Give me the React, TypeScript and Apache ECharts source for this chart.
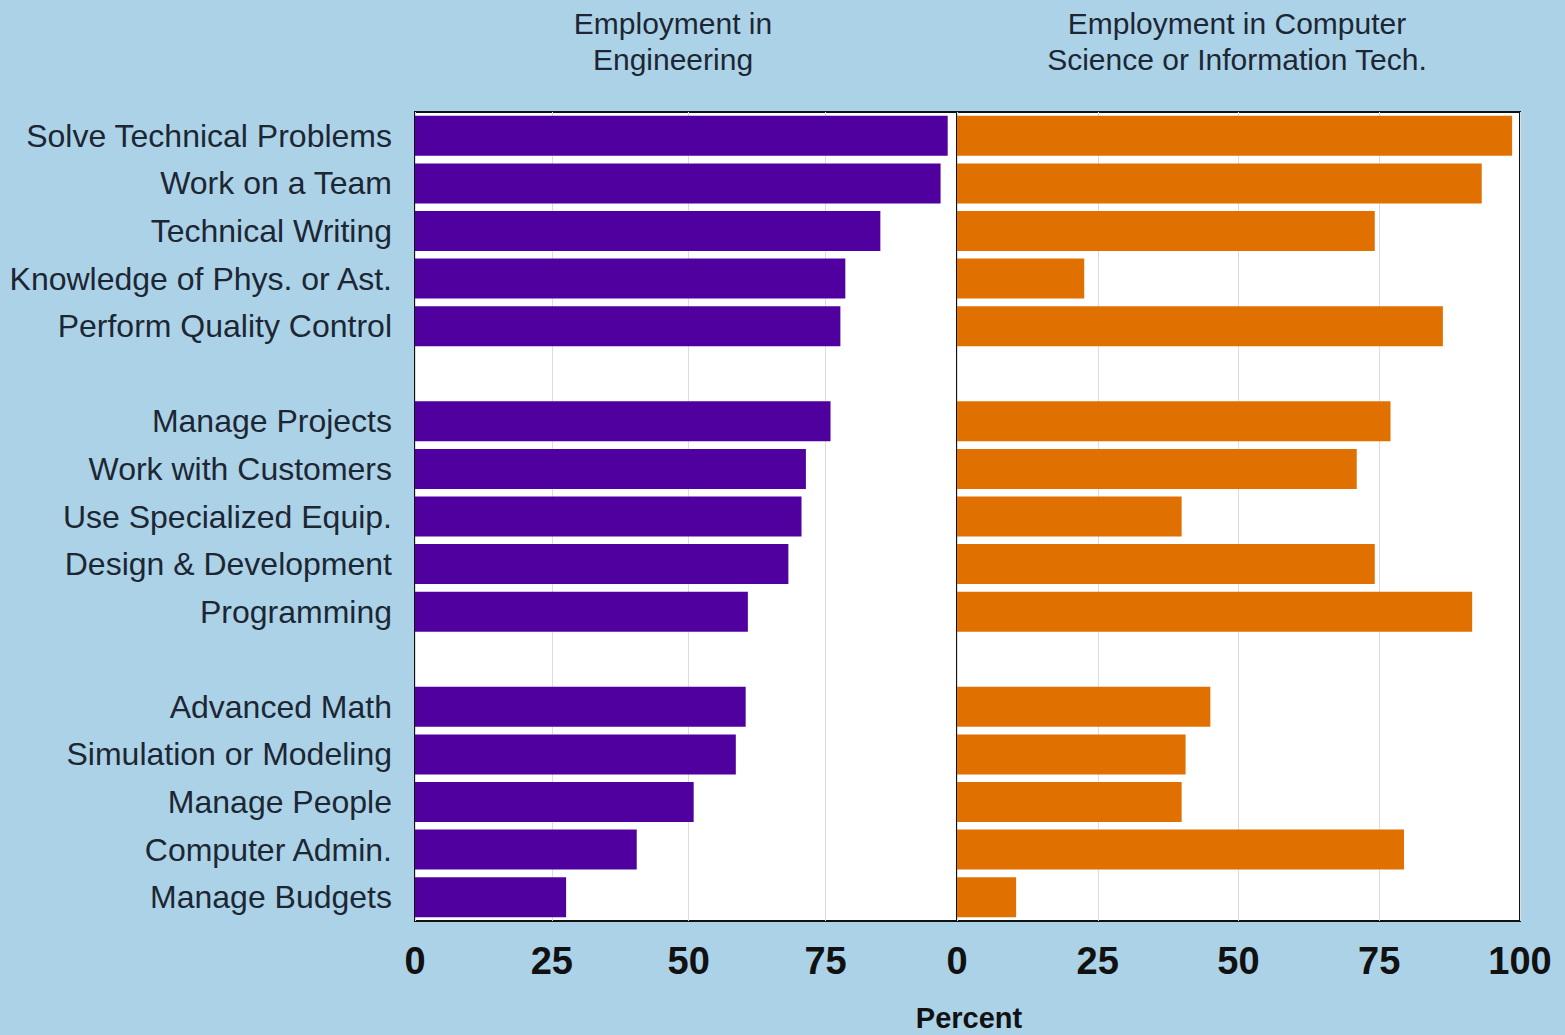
import React, { useEffect, useRef } from "react";
import * as echarts from "echarts";

// Categories, top to bottom; blank entries are the gaps between groups
const categories: string[] = [
  "Solve Technical Problems",
  "Work on a Team",
  "Technical Writing",
  "Knowledge of Phys. or Ast.",
  "Perform Quality Control",
  "",
  "Manage Projects",
  "Work with Customers",
  "Use Specialized Equip.",
  "Design & Development",
  "Programming",
  " ",
  "Advanced Math",
  "Simulation or Modeling",
  "Manage People",
  "Computer Admin.",
  "Manage Budgets",
];

const engineering: (number | null)[] = [
  97.3, 96.0, 85.0, 78.6, 77.7, null,
  75.9, 71.4, 70.6, 68.2, 60.8, null,
  60.4, 58.6, 50.9, 40.5, 27.6,
];

const computerScience: (number | null)[] = [
  98.6, 93.2, 74.2, 22.6, 86.3, null,
  77.0, 71.0, 39.9, 74.2, 91.5, null,
  45.0, 40.6, 39.9, 79.4, 10.5,
];

const leftTicks = [0, 25, 50, 75];
const rightTicks = [0, 25, 50, 75, 100];

const panelTitles = [
  "Employment in\nEngineering",
  "Employment in Computer\nScience or Information Tech.",
];
const xAxisName = "Percent";

export default function App() {
  const ref = useRef<HTMLDivElement>(null);

  useEffect(() => {
    if (!ref.current) return;
    const chart = echarts.init(ref.current, undefined, { renderer: "svg" });
    const textColor = "#1c2733";
    const font = "'Liberation Sans', Arial, sans-serif";

    const xAxisCommon = {
      type: "value" as const,
      interval: 25,
      axisLine: { show: false },
      axisTick: { show: false },
      splitLine: { show: true, lineStyle: { color: "#dcdcdc", width: 1 } },
      axisLabel: {
        fontSize: 38,
        fontWeight: "bold" as const,
        color: "#111",
        fontFamily: font,
        margin: 21,
      },
    };

    const titleStyle = {
      fontSize: 30,
      fontWeight: "normal" as const,
      color: textColor,
      fontFamily: font,
      lineHeight: 36,
    };

    chart.setOption({
      animation: false,
      backgroundColor: "#acd2e8",
      title: [
        { text: panelTitles[0], left: 673, top: 5, padding: 0, textAlign: "center", textStyle: titleStyle },
        { text: panelTitles[1], left: 1237, top: 5, padding: 0, textAlign: "center", textStyle: titleStyle },
      ],
      grid: [
        {
          left: 415, top: 112, width: 542, height: 809,
          show: true, backgroundColor: "#ffffff", borderColor: "#111", borderWidth: 2,
        },
        {
          left: 957, top: 112, width: 563, height: 809,
          show: true, backgroundColor: "#ffffff", borderColor: "#111", borderWidth: 2,
        },
      ],
      xAxis: [
        {
          ...xAxisCommon,
          gridIndex: 0,
          min: leftTicks[0],
          max: 99,
          axisLabel: { ...xAxisCommon.axisLabel, showMaxLabel: false },
        },
        {
          ...xAxisCommon,
          gridIndex: 1,
          min: rightTicks[0],
          max: rightTicks[rightTicks.length - 1],
        },
      ],
      yAxis: [
        {
          type: "category",
          gridIndex: 0,
          data: categories,
          inverse: true,
          axisLine: { show: false },
          axisTick: { show: false },
          axisLabel: {
            fontSize: 32,
            color: textColor,
            fontFamily: font,
            margin: 23,
            interval: 0,
          },
        },
        {
          type: "category",
          gridIndex: 1,
          data: categories,
          inverse: true,
          axisLine: { show: false },
          axisTick: { show: false },
          axisLabel: { show: false },
        },
      ],
      graphic: [
        {
          type: "text",
          x: 969,
          y: 1003,
          style: {
            text: xAxisName,
            fill: "#111",
            font: `bold 29px ${font}`,
            textAlign: "center",
          },
        },
      ],
      series: [
        {
          type: "bar",
          xAxisIndex: 0,
          yAxisIndex: 0,
          data: engineering,
          barWidth: 40,
          itemStyle: { color: "#4f009e" },
        },
        {
          type: "bar",
          xAxisIndex: 1,
          yAxisIndex: 1,
          data: computerScience,
          barWidth: 40,
          itemStyle: { color: "#e07000" },
        },
      ],
    });

    return () => chart.dispose();
  }, []);

  return (
    <div
      ref={ref}
      style={{ position: "fixed", left: 0, top: 0, width: 1565, height: 1035 }}
    />
  );
}
